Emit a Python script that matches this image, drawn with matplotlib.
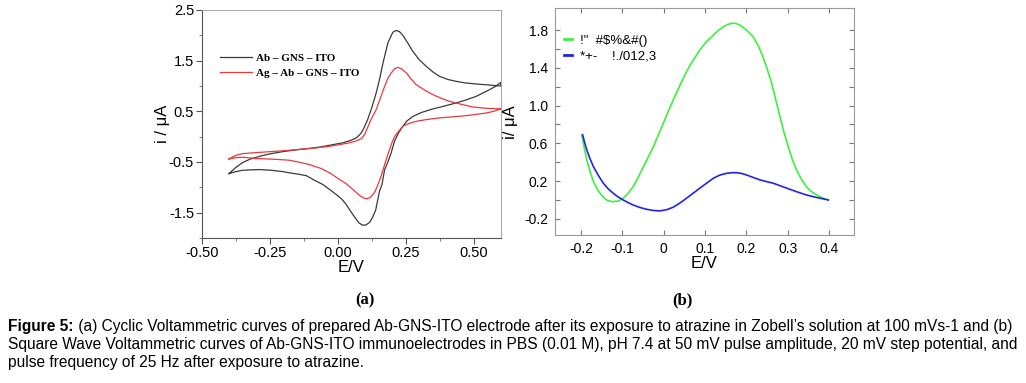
import numpy as np
import matplotlib.pyplot as plt
from matplotlib.ticker import MultipleLocator, FixedLocator

# ---- data ----
# (a) cyclic voltammetry, forward scan then reverse scan
cv_ab_fwd_E = [-0.400, -0.375, -0.348, -0.320, -0.287, -0.245, -0.201, -0.160, -0.115, -0.060,
               -0.020, 0.020, 0.050, 0.070, 0.085, 0.095, 0.110, 0.125, 0.142, 0.155, 0.167,
               0.185, 0.203, 0.216, 0.228, 0.240, 0.258, 0.277, 0.300, 0.326, 0.350, 0.375,
               0.405, 0.436, 0.470, 0.510, 0.555, 0.600]
cv_ab_fwd_i = [-0.730, -0.610, -0.506, -0.440, -0.387, -0.335, -0.295, -0.265, -0.240, -0.200,
               -0.160, -0.120, -0.070, -0.020, 0.060, 0.150, 0.330, 0.560, 0.863, 1.150, 1.455,
               1.849, 2.060, 2.098, 2.070, 2.000, 1.850, 1.683, 1.520, 1.388, 1.280, 1.190,
               1.130, 1.092, 1.060, 1.040, 1.020, 1.000]
cv_ab_rev_E = [0.600, 0.580, 0.559, 0.530, 0.510, 0.470, 0.436, 0.390, 0.350, 0.310, 0.277,
               0.255, 0.240, 0.225, 0.210, 0.197, 0.185, 0.173, 0.163, 0.154, 0.140, 0.128,
               0.118, 0.105, 0.093, 0.078, 0.062, 0.045, 0.032, 0.015, -0.005, -0.030, -0.054,
               -0.085, -0.115, -0.150, -0.176, -0.201, -0.250, -0.287, -0.320, -0.348, -0.375,
               -0.400]
cv_ab_rev_i = [1.070, 0.990, 0.928, 0.850, 0.796, 0.720, 0.666, 0.600, 0.547, 0.480, 0.400,
               0.310, 0.204, 0.080, -0.080, -0.320, -0.500, -0.650, -0.950, -1.080, -1.450, -1.600,
               -1.690, -1.740, -1.750, -1.700, -1.583, -1.450, -1.340, -1.230, -1.143, -1.040, -0.946,
               -0.860, -0.770, -0.735, -0.715, -0.690, -0.660, -0.650, -0.655, -0.663, -0.690,
               -0.730]

cv_ag_fwd_E = [-0.400, -0.375, -0.348, -0.300, -0.262, -0.210, -0.164, -0.120, -0.078, -0.030,
               0.007, 0.040, 0.069, 0.090, 0.100, 0.108, 0.122, 0.142, 0.158, 0.173, 0.185,
               0.197, 0.210, 0.222, 0.235, 0.253, 0.270, 0.289, 0.320, 0.350, 0.380, 0.412,
               0.450, 0.497, 0.545, 0.600]
cv_ag_fwd_i = [-0.440, -0.370, -0.334, -0.315, -0.301, -0.282, -0.262, -0.240, -0.222, -0.190,
               -0.157, -0.125, -0.085, -0.030, 0.050, 0.150, 0.330, 0.534, 0.770, 0.993, 1.150,
               1.257, 1.340, 1.368, 1.340, 1.257, 1.140, 1.027, 0.920, 0.830, 0.760, 0.697,
               0.645, 0.587, 0.560, 0.547]
cv_ag_rev_E = [0.600, 0.575, 0.547, 0.510, 0.473, 0.420, 0.375, 0.330, 0.289, 0.262, 0.240,
               0.225, 0.210, 0.200, 0.188, 0.173, 0.160, 0.148, 0.138, 0.130, 0.120, 0.108,
               0.095, 0.081, 0.060, 0.032, 0.000, -0.029, -0.060, -0.103, -0.140, -0.176,
               -0.220, -0.262, -0.300, -0.348, -0.375, -0.400]
cv_ag_rev_i = [0.550, 0.500, 0.468, 0.440, 0.415, 0.390, 0.370, 0.340, 0.303, 0.260, 0.204,
               0.110, 0.007, -0.120, -0.300, -0.550, -0.780, -0.950, -1.080, -1.143, -1.200, -1.228,
               -1.210, -1.160, -1.060, -0.930, -0.820, -0.715, -0.630, -0.551, -0.506, -0.466,
               -0.450, -0.439, -0.430, -0.407, -0.415, -0.440]

# (b) square wave voltammetry
swv_green_E = [-0.198, -0.192, -0.186, -0.178, -0.170, -0.162, -0.154, -0.146, -0.138, -0.130,
               -0.122, -0.110, -0.098, -0.086, -0.074, -0.062, -0.049, -0.037, -0.025, -0.013,
               -0.001, 0.011, 0.023, 0.039, 0.055, 0.071, 0.087, 0.104, 0.120, 0.132, 0.144,
               0.154, 0.164, 0.174, 0.184, 0.196, 0.206, 0.216, 0.228, 0.240, 0.250, 0.261,
               0.271, 0.281, 0.291, 0.301, 0.311, 0.321, 0.333, 0.345, 0.357, 0.370, 0.384,
               0.398]
swv_green_i = [0.689, 0.550, 0.424, 0.300, 0.195, 0.125, 0.072, 0.030, 0.001, -0.012,
               -0.017, -0.010, 0.019, 0.072, 0.142, 0.240, 0.354, 0.460, 0.565, 0.690,
               0.813, 0.940, 1.059, 1.215, 1.359, 1.480, 1.588, 1.680, 1.747, 1.795, 1.835,
               1.858, 1.871, 1.870, 1.853, 1.815, 1.775, 1.729, 1.640, 1.518, 1.390, 1.236,
               1.060, 0.883, 0.715, 0.565, 0.430, 0.319, 0.220, 0.142, 0.090, 0.054, 0.022,
               0.001]
swv_blue_E = [-0.196, -0.191, -0.186, -0.178, -0.170, -0.158, -0.146, -0.134, -0.122, -0.110,
              -0.098, -0.086, -0.074, -0.058, -0.041, -0.025, -0.009, 0.007, 0.023, 0.039,
              0.055, 0.071, 0.087, 0.104, 0.120, 0.136, 0.152, 0.164, 0.176, 0.188, 0.200,
              0.216, 0.233, 0.249, 0.265, 0.285, 0.305, 0.325, 0.345, 0.370, 0.398]
swv_blue_i = [0.689, 0.605, 0.530, 0.435, 0.354, 0.260, 0.178, 0.118, 0.072, 0.032,
              0.001, -0.027, -0.052, -0.078, -0.098, -0.110, -0.115, -0.102, -0.076, -0.032,
              0.019, 0.072, 0.125, 0.180, 0.231, 0.265, 0.283, 0.289, 0.290, 0.282, 0.266,
              0.240, 0.213, 0.195, 0.178, 0.146, 0.114, 0.083, 0.054, 0.027, 0.001]

labels_a = ["Ab \u2013 GNS \u2013 ITO", "Ag \u2013 Ab \u2013 GNS \u2013 ITO"]
labels_b = ['!"  #$%&#()', '*+-    !./012,3']

caption = [
    " (a) Cyclic Voltammetric curves of prepared Ab-GNS-ITO electrode after its exposure to atrazine in Zobell\u2019s solution at 100 mVs-1 and (b)",
    "Square Wave Voltammetric curves of Ab-GNS-ITO immunoelectrodes in PBS (0.01 M), pH 7.4 at 50 mV pulse amplitude, 20 mV step potential, and",
    "pulse frequency of 25 Hz after exposure to atrazine.",
]
cap_size = 11.2

plt.rcParams['font.family'] = ['Liberation Sans', 'DejaVu Sans']

fig = plt.figure(figsize=(10.26, 3.83), dpi=100)

# ---- panel (a) ----
ax1 = fig.add_axes([0.1966, 0.3786, 0.2914, 0.5953])
ax1.plot(cv_ab_fwd_E + cv_ab_rev_E, cv_ab_fwd_i + cv_ab_rev_i, color='#3a3a3a', lw=0.9,
         label=labels_a[0])
ax1.plot(cv_ag_fwd_E + cv_ag_rev_E, cv_ag_fwd_i + cv_ag_rev_i, color='#e8393e', lw=0.9,
         label=labels_a[1])
ax1.set_xlim(-0.5, 0.6)
ax1.set_ylim(-2.0, 2.5)
ax1.xaxis.set_major_locator(FixedLocator([-0.5, -0.25, 0.0, 0.25, 0.5]))
ax1.set_xticklabels(["-0.50", "-0.25", "0.00", "0.25", "0.50"])
ax1.xaxis.set_minor_locator(MultipleLocator(0.125))
ax1.yaxis.set_major_locator(FixedLocator([2.5, 1.5, 0.5, -0.5, -1.5]))
ax1.set_yticklabels(["2.5", "1.5", "0.5", "-0.5", "-1.5"])
ax1.yaxis.set_minor_locator(MultipleLocator(0.5))
ax1.tick_params(which='major', length=4, width=0.8, color='#555555', labelsize=10.5, pad=1.5)
ax1.tick_params(which='minor', length=2, width=0.7, color='#777777')
for s in ['left', 'bottom']:
    ax1.spines[s].set_color('#555555')
for s in ['top', 'right']:
    ax1.spines[s].set_color('#aaaaaa')
ax1.set_xlabel("E/V", fontsize=12, labelpad=0)
ax1.set_ylabel("i / \u03bcA", fontsize=12, labelpad=-1)
ax1.legend(loc='upper left', bbox_to_anchor=(0.06, 0.81), frameon=False, borderpad=0,
           borderaxespad=0, handlelength=2.9, handletextpad=0.4, labelspacing=0.45,
           prop={'family': 'Liberation Serif', 'weight': 'bold', 'size': 8})

# ---- panel (b) ----
ax2 = fig.add_axes([0.5409, 0.3864, 0.2914, 0.5919])
ax2.plot(swv_green_E, swv_green_i, color='#3ef03e', lw=1.2, label=labels_b[0])
ax2.plot(swv_blue_E, swv_blue_i, color='#2323e6', lw=1.2, label=labels_b[1])
ax2.set_xlim(-0.263, 0.46)
ax2.set_ylim(-0.37, 2.03)
ax2.xaxis.set_major_locator(FixedLocator([-0.2, -0.1, 0.0, 0.1, 0.2, 0.3, 0.4]))
ax2.set_xticklabels(["-0.2", "-0.1", "0", "0.1", "0.2", "0.3", "0.4"])
ax2.yaxis.set_major_locator(FixedLocator([1.8, 1.4, 1.0, 0.6, 0.2, -0.2]))
ax2.set_yticklabels(["1.8", "1.4", "1.0", "0.6", "0.2", "-0.2"])
ax2.yaxis.set_minor_locator(FixedLocator([1.6, 1.2, 0.8, 0.4, 0.0]))
ax2.tick_params(which='both', direction='in', top=True, right=True, length=3.5, width=0.8,
                color='#777777', labelsize=10, pad=5)
for s in ax2.spines.values():
    s.set_color('#999999')
ax2.set_xlabel("E/V", fontsize=12, labelpad=0)
ax2.set_ylabel("i/ \u03bcA", fontsize=12, labelpad=4)
ax2.legend(loc='upper left', bbox_to_anchor=(0.03, 0.885), frameon=False, borderpad=0,
           borderaxespad=0, handlelength=0.6, handletextpad=0.6, labelspacing=0.3,
           prop={'size': 9.5})
for ln in ax2.get_legend().get_lines():
    ln.set_linewidth(2)

# ---- panel letters ----
fig.text(365 / 1026, 1 - 300 / 383, "(a)", ha='center', va='center', fontsize=12,
         fontweight='bold', family='Liberation Serif')
fig.text(682 / 1026, 1 - 300 / 383, "(b)", ha='center', va='center', fontsize=12,
         fontweight='bold', family='Liberation Serif')

# ---- caption ----
x0 = 8 / 1026
t = fig.text(x0, 1 - 327 / 383, "Figure 5:", ha='left', va='center', fontsize=cap_size,
             fontweight='bold')
fig.add_artist(plt.Annotation(caption[0], xy=(1, 0.5), xycoords=t, va='center', ha='left',
                              fontsize=cap_size))
fig.text(x0, 1 - 345 / 383, caption[1], ha='left', va='center', fontsize=cap_size)
fig.text(x0, 1 - 363 / 383, caption[2], ha='left', va='center', fontsize=cap_size)

fig.savefig("out.png", dpi=100)
